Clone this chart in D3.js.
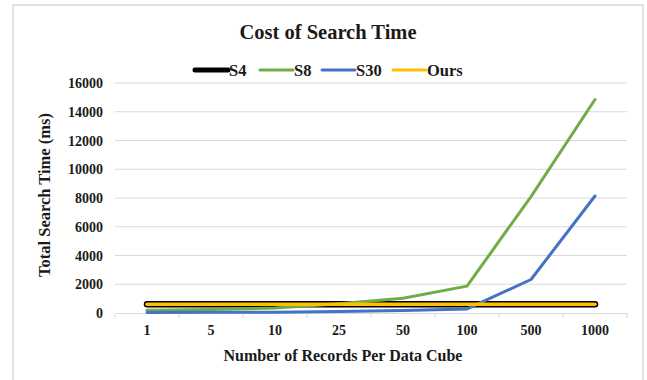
<!DOCTYPE html>
<html lang="en">
<head>
<meta charset="utf-8">
<title>Cost of Search Time</title>
<script src="https://cdn.jsdelivr.net/npm/d3@7"></script>
<style>
  body { margin: 0; background: #fff; }
  text { font-family: "Liberation Serif", "Times New Roman", serif; font-weight: bold; fill: #1a1a1a; }
</style>
</head>
<body>
<svg width="647" height="380"></svg>
<script>
// categories and series
const categories = ["1", "5", "10", "25", "50", "100", "500", "1000"];
const s4 = [615, 615, 615, 615, 615, 615, 615, 615];
const s8 = [200, 250, 350, 650, 1020, 1870, 8100, 14850];
const s30 = [40, 50, 60, 100, 170, 280, 2330, 8140];
const ours = [605, 605, 605, 605, 605, 605, 605, 605];
const yTicks = [0, 2000, 4000, 6000, 8000, 10000, 12000, 14000, 16000];

const series = [
  { name: "S4", values: s4, color: "#000000", width: 6.5, legendW: 5 },
  { name: "S8", values: s8, color: "#70ad47", width: 3, legendW: 3 },
  { name: "S30", values: s30, color: "#4472c4", width: 3, legendW: 3 },
  { name: "Ours", values: ours, color: "#ffc000", width: 3.5, legendW: 3 }
];

const svg = d3.select("svg");

// faint frame like the pasted chart
svg.append("rect")
  .attr("x", 13).attr("y", 5)
  .attr("width", 630).attr("height", 380)
  .attr("fill", "none")
  .attr("stroke", "#d9d9d9")
  .attr("stroke-width", 1.5);

const x = d3.scaleBand().domain(categories).range([115, 627]);
const y = d3.scaleLinear().domain([0, 16000]).range([313, 83]);

// gridlines
svg.append("g")
  .selectAll("line")
  .data(yTicks.filter(d => d > 0))
  .join("line")
  .attr("x1", 115).attr("x2", 627)
  .attr("y1", d => y(d)).attr("y2", d => y(d))
  .attr("stroke", "#d9d9d9")
  .attr("stroke-width", 1);

// y axis labels
svg.append("g")
  .selectAll("text")
  .data(yTicks)
  .join("text")
  .attr("x", 103)
  .attr("y", d => y(d) + 5)
  .attr("text-anchor", "end")
  .attr("font-size", 14)
  .text(d => d);

// x axis line with ticks at category boundaries
const xAxis = d3.axisBottom(x).tickSize(0).tickPadding(12);
const gx = svg.append("g").attr("transform", "translate(0,313)").call(xAxis);
gx.select(".domain").attr("stroke", "#d9d9d9").attr("stroke-width", 1);
gx.selectAll("text")
  .attr("font-size", 14)
  .attr("font-family", "Liberation Serif, serif")
  .attr("font-weight", "bold")
  .attr("fill", "#1a1a1a");

svg.append("g")
  .selectAll("line")
  .data(categories.map(c => x(c)).concat([x.range()[1]]))
  .join("line")
  .attr("x1", d => d).attr("x2", d => d)
  .attr("y1", 313).attr("y2", 318)
  .attr("stroke", "#d9d9d9");

// lines
const line = d3.line()
  .x((d, i) => x(categories[i]) + x.bandwidth() / 2)
  .y(d => y(d));

svg.append("g")
  .selectAll("path")
  .data(series)
  .join("path")
  .attr("d", d => line(d.values))
  .attr("fill", "none")
  .attr("stroke", d => d.color)
  .attr("stroke-width", d => d.width)
  .attr("stroke-linejoin", "round")
  .attr("stroke-linecap", "round");

// title
svg.append("text")
  .attr("x", 328).attr("y", 39)
  .attr("text-anchor", "middle")
  .attr("font-size", 20.5)
  .text("Cost of Search Time");

// legend
const legendX = [195, 260, 322, 393];
const legend = svg.append("g")
  .selectAll("g")
  .data(series)
  .join("g")
  .attr("transform", (d, i) => `translate(${legendX[i]},70)`);

legend.append("line")
  .attr("x1", 0).attr("x2", 33)
  .attr("stroke", d => d.color)
  .attr("stroke-width", d => d.legendW)
  .attr("stroke-linecap", "round");

legend.append("text")
  .attr("x", 34).attr("y", 6)
  .attr("font-size", 16.5)
  .text(d => d.name);

// axis titles
svg.append("text")
  .attr("transform", "translate(50,195) rotate(-90)")
  .attr("text-anchor", "middle")
  .attr("font-size", 16.5)
  .text("Total Search Time (ms)");

svg.append("text")
  .attr("x", 343).attr("y", 361)
  .attr("text-anchor", "middle")
  .attr("font-size", 16)
  .text("Number of Records Per Data Cube");
</script>
</body>
</html>
